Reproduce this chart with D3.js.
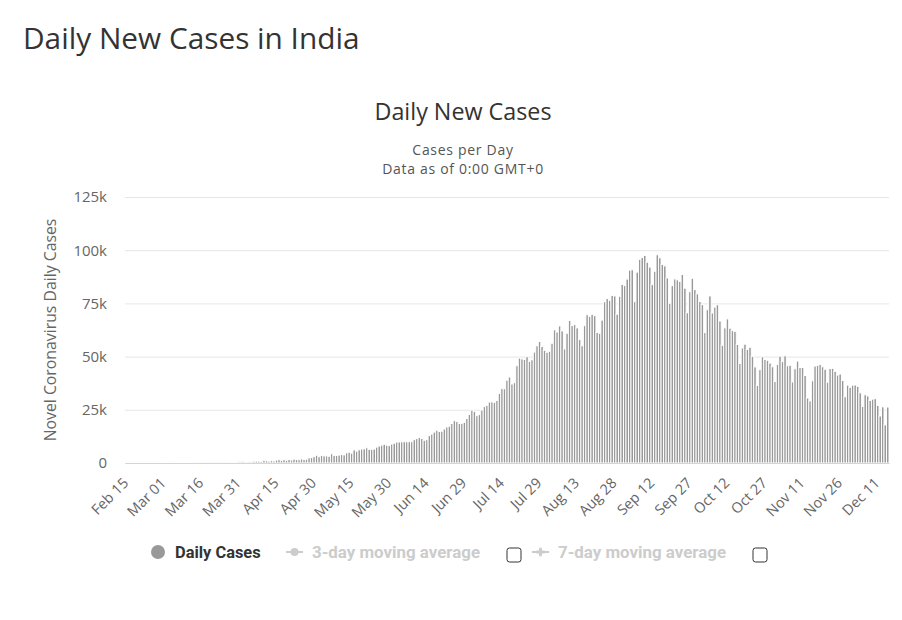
<!DOCTYPE html>
<html>
<head>
<meta charset="utf-8">
<script src="https://cdn.jsdelivr.net/npm/d3@7"></script>
<style>
  html, body { margin: 0; padding: 0; background: #fff; }
  svg { display: block; }
</style>
</head>
<body>
<svg id="chart" width="902" height="620"></svg>
<script>
// ---- Data (Daily new cases, India, one value per day from Feb 15) ----
const startDate = new Date(2020, 1, 15);
const endDate = new Date(2020, 11, 16); // exclusive

const febCases = [0,0,0,0,0,0,0,0,0,0,0,0,0,2,1];
const marCases = [23,2,1,3,5,4,6,12,11,8,10,12,14,12,22,28,58,78,68,103,89,101,87,160,151,143,146,302,437,486,560];
const aprCases = [579,609,484,573,565,813,871,854,758,1243,1031,886,1061,922,1371,1580,1239,1537,1292,1667,1408,1835,1607,1568,1902,1705,1801,2396,2564,2952];
const mayCases = [3656,2971,3602,3344,3339,3175,4311,3592,3562,3726,3991,3808,4794,5050,4630,6147,5553,6198,6568,6629,7113,6414,6382,6566,7467,7964,8380,8789,8392,8171,8909];
const junCases = [9304,9851,9887,9971,9983,9987,9985,9996,10956,11458,11929,11502,10667,10974,12881,13586,14516,15413,14821,14933,15968,16922,17296,18552,19906,19459,18522,18653,19148,20903];
const julCases = [22771,24850,24248,22252,22752,24879,26506,27114,28637,28701,28498,29429,32695,34956,34884,38902,40425,37148,37724,45720,49310,48916,48661,49931,47703,48513,52123,55078,57118,54735,52972];
const augCases = [52050,52509,56282,62538,61537,64399,62064,53601,60963,66999,64553,65002,63490,57981,55079,64531,69652,68898,69878,69239,61408,60975,67151,75760,77266,76472,78761,78512,69921,78357,83883];
const sepCases = [83341,86432,90632,90802,75809,89706,95735,96551,97570,94372,92071,83809,90123,97894,96424,93337,92605,86961,75083,83347,86508,86052,85362,88600,82170,70589,80472,86821,81484,79476];
const octCases = [75829,74442,61267,72049,78524,70496,73272,74383,66732,55342,63509,67708,63371,62212,61871,55722,46790,54044,55839,53370,54366,50129,45149,36469,43893,49881,48648,48268,46963,45231,38310];
const novCases = [46254,50210,47638,50356,45674,45903,38073,44281,47905,44879,44878,41100,30548,29163,38617,45576,45882,46232,45209,44059,37975,44376,44489,43082,41322,41810,38772,31118,36604,35551];
const decCases = [36595,36652,36011,32981,26567,32080,31521,29398,30006,30254,27071,22065,26382,17900,26300];

const yTicks = [0, 25000, 50000, 75000, 100000, 125000];
const yTickLabels = ["0", "25k", "50k", "75k", "100k", "125k"];
const labelStep = 15;

const pageTitle = "Daily New Cases in India";
const chartTitle = "Daily New Cases";
const subtitleLines = ["Cases per Day", "Data as of 0:00 GMT+0"];
const yAxisTitle = "Novel Coronavirus Daily Cases";
const legendItems = ["Daily Cases", "3-day moving average", "7-day moving average"];

// ---- Build ----
const categories = d3.timeDay.range(startDate, endDate);
const values = [].concat(febCases, marCases, aprCases, mayCases, junCases, julCases,
  augCases, sepCases, octCases, novCases, decCases);
const data = categories.map((d, i) => ({ date: d, value: values[i] }));
const fmt = d3.timeFormat("%b %d");

const svg = d3.select("#chart");
const font = "'Open Sans', 'DejaVu Sans', sans-serif";
const legendFont = "Roboto, 'Liberation Sans', sans-serif";

const plot = { left: 125, right: 889, top: 197, bottom: 463 };

const x = d3.scaleBand()
  .domain(categories.map(d => +d))
  .range([plot.left, plot.right])
  .padding(0);
const y = d3.scaleLinear().domain([0, 125000]).range([plot.bottom, plot.top]);

// page title
svg.append("text")
  .attr("x", 23).attr("y", 49)
  .attr("font-family", font).attr("font-size", 29.8)
  .attr("fill", "#333")
  .text(pageTitle);

// chart title + subtitles
svg.append("text")
  .attr("x", 463).attr("y", 120)
  .attr("text-anchor", "middle")
  .attr("font-family", font).attr("font-size", 23.3)
  .attr("fill", "#333")
  .text(chartTitle);

subtitleLines.forEach((t, i) => {
  svg.append("text")
    .attr("x", 463).attr("y", 154.5 + i * 19)
    .attr("text-anchor", "middle")
    .attr("font-family", font).attr("font-size", 14)
    .attr("letter-spacing", 0.7)
    .attr("fill", "#555")
    .text(t);
});

// gridlines + y labels
const yAxisG = svg.append("g").attr("transform", `translate(${plot.left},0)`)
  .call(d3.axisLeft(y).tickValues(yTicks)
    .tickSize(-(plot.right - plot.left))
    .tickFormat((d, i) => yTickLabels[i]));
yAxisG.select(".domain").remove();
yAxisG.selectAll(".tick line").attr("stroke", "#e6e6e6");
yAxisG.selectAll(".tick text")
  .attr("x", -18)
  .attr("font-family", font).attr("font-size", 15)
  .attr("fill", "#666");

// y axis title
svg.append("text")
  .attr("transform", "translate(56,330) rotate(-90)")
  .attr("text-anchor", "middle")
  .attr("font-family", font).attr("font-size", 15.8)
  .attr("fill", "#666")
  .text(yAxisTitle);

// bars (white 1px border like the original column chart)
const bw = x.bandwidth();
svg.append("g").selectAll("rect")
  .data(data)
  .join("rect")
  .attr("x", d => x(+d.date))
  .attr("width", bw)
  .attr("y", d => y(d.value))
  .attr("height", d => plot.bottom - y(d.value))
  .attr("fill", "#999")
  .attr("stroke", "#fff")
  .attr("stroke-width", 1);

// x axis
const xAxis = d3.axisBottom(x)
  .tickValues(categories.filter((d, i) => i % labelStep === 0).map(d => +d))
  .tickSize(0)
  .tickFormat(d => fmt(new Date(d)));
const xAxisG = svg.append("g").attr("transform", `translate(0,${plot.bottom})`).call(xAxis);
xAxisG.select(".domain").attr("stroke", "#ccd6eb");
xAxisG.selectAll(".tick text")
  .attr("font-family", font).attr("font-size", 14.5)
  .attr("fill", "#666")
  .attr("text-anchor", "end")
  .attr("dy", 0)
  .attr("y", 0)
  .attr("transform", "translate(3,21) rotate(-45)");

// legend
const ly = 552;
const lg = svg.append("g");
lg.append("circle").attr("cx", 158).attr("cy", ly).attr("r", 7).attr("fill", "#999");
lg.append("text").attr("x", 175).attr("y", ly + 6)
  .attr("font-family", legendFont).attr("font-weight", "bold")
  .attr("font-size", 16.4).attr("fill", "#333").text(legendItems[0]);

lg.append("line").attr("x1", 286).attr("x2", 303).attr("y1", ly).attr("y2", ly)
  .attr("stroke", "#ccc").attr("stroke-width", 2);
lg.append("circle").attr("cx", 294.5).attr("cy", ly).attr("r", 4).attr("fill", "#ccc");
lg.append("text").attr("x", 312).attr("y", ly + 6)
  .attr("font-family", legendFont).attr("font-weight", "bold")
  .attr("font-size", 16.9).attr("fill", "#ccc").text(legendItems[1]);
lg.append("rect").attr("x", 507).attr("y", 548).attr("width", 14).attr("height", 14)
  .attr("rx", 2.5).attr("fill", "#fff").attr("stroke", "#333").attr("stroke-width", 1);

lg.append("line").attr("x1", 532).attr("x2", 549).attr("y1", ly).attr("y2", ly)
  .attr("stroke", "#ccc").attr("stroke-width", 2);
lg.append("path").attr("d", d3.symbol().type(d3.symbolCross).size(40)())
  .attr("transform", `translate(540.5,${ly})`).attr("fill", "#ccc");
lg.append("text").attr("x", 558).attr("y", ly + 6)
  .attr("font-family", legendFont).attr("font-weight", "bold")
  .attr("font-size", 16.9).attr("fill", "#ccc").text(legendItems[2]);
lg.append("rect").attr("x", 753).attr("y", 548).attr("width", 14).attr("height", 14)
  .attr("rx", 2.5).attr("fill", "#fff").attr("stroke", "#333").attr("stroke-width", 1);
</script>
</body>
</html>
